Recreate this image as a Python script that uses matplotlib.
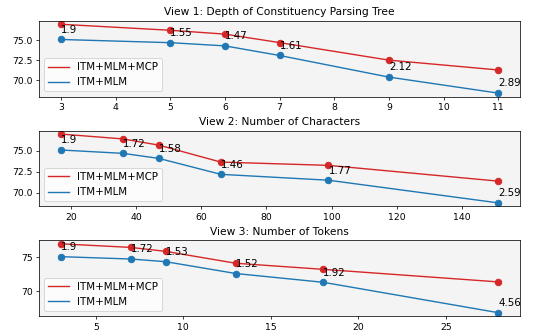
import matplotlib
matplotlib.use("Agg")
import matplotlib.pyplot as plt
from matplotlib.lines import Line2D

# View 1: depth of constituency parsing tree
x1 = [3, 5, 6, 7, 9, 11]
mlm1 = [75.1, 74.7, 74.3, 73.1, 70.4, 68.4]
gap1 = [1.9, 1.55, 1.47, 1.61, 2.12, 2.89]

# View 2: number of characters
x2 = [17, 36, 47, 66, 99, 151]
mlm2 = [75.1, 74.7, 74.1, 72.2, 71.5, 68.8]
gap2 = [1.9, 1.72, 1.58, 1.46, 1.77, 2.59]

# View 3: number of tokens
x3 = [3, 7, 9, 13, 18, 28]
mlm3 = [75.1, 74.75, 74.35, 72.6, 71.3, 66.8]
gap3 = [1.9, 1.72, 1.53, 1.52, 1.92, 4.56]

titles = ["View 1: Depth of Constituency Parsing Tree",
          "View 2: Number of Characters",
          "View 3: Number of Tokens"]

views = [(x1, mlm1, gap1), (x2, mlm2, gap2), (x3, mlm3, gap3)]

fig, axes = plt.subplots(3, 1, figsize=(8, 4.95), dpi=66.875)
fig.subplots_adjust(left=0.073, right=0.972, top=0.937, bottom=0.045, hspace=0.45)

for ax, (x, mlm, gap), title in zip(axes, views, titles):
    mcp = [m + g for m, g in zip(mlm, gap)]
    ax.set_facecolor("#f4f4f4")
    ax.plot(x, mcp, color="tab:red", marker="o", markersize=7)
    ax.plot(x, mlm, color="tab:blue", marker="o", markersize=7)
    for xi, yi, g in zip(x, mlm, gap):
        ax.annotate(str(g), (xi, yi), xytext=(0, 5), textcoords="offset points",
                    ha="left", va="bottom", fontsize=11)
    ax.set_title(title, fontsize=11.5)
    handles = [Line2D([], [], color="tab:red"), Line2D([], [], color="tab:blue")]
    ax.legend(handles, ["ITM+MLM+MCP", "ITM+MLM"], loc="lower left", fontsize=11)

plt.savefig("out.png", dpi=66.875)
